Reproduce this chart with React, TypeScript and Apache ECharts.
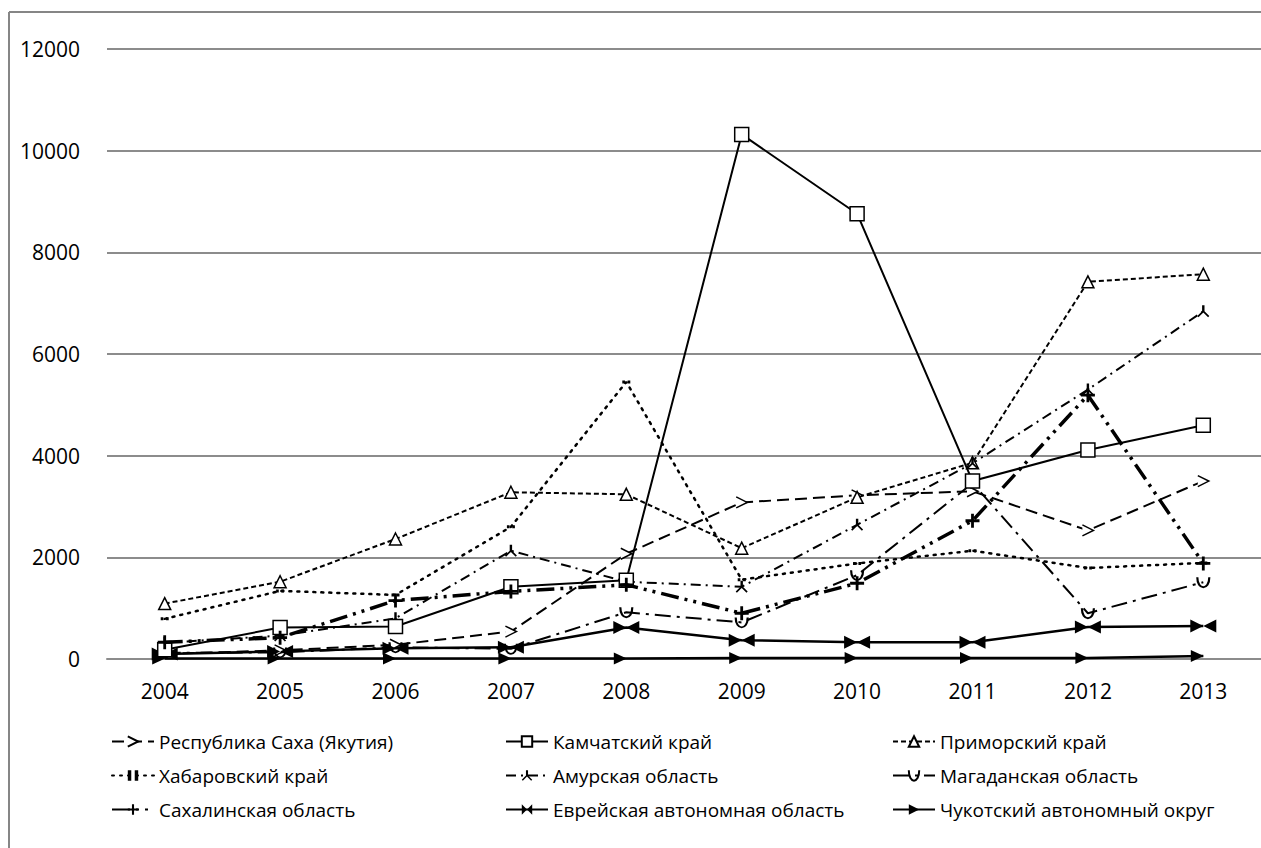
import React, { useEffect, useRef } from "react";
import * as echarts from "echarts";

const categories = ["2004", "2005", "2006", "2007", "2008", "2009", "2010", "2011", "2012", "2013"];
const yTicks = [0, 2000, 4000, 6000, 8000, 10000, 12000];

const names = [
  "Республика Саха (Якутия)",
  "Камчатский край",
  "Приморский край",
  "Хабаровский край",
  "Амурская область",
  "Магаданская область",
  "Сахалинская область",
  "Еврейская автономная область",
  "Чукотский автономный округ",
];

const saha = [100, 170, 280, 540, 2070, 3080, 3220, 3300, 2530, 3500];
const kamchatka = [180, 620, 640, 1420, 1550, 10320, 8760, 3500, 4110, 4600];
const primorsky = [1090, 1520, 2360, 3280, 3240, 2180, 3180, 3860, 7420, 7570];
const khabarovsk = [790, 1340, 1260, 2600, 5450, 1560, 1880, 2130, 1790, 1890];
const amur = [320, 460, 800, 2130, 1520, 1420, 2640, 3850, 5300, 6840];
const magadan = [120, 130, 230, 200, 920, 720, 1650, 3460, 900, 1510];
const sakhalin = [330, 420, 1150, 1330, 1460, 900, 1490, 2720, 5190, 1880];
const jewish = [100, 150, 210, 230, 620, 370, 330, 330, 630, 650];
const chukotka = [10, 10, 10, 10, 10, 20, 20, 20, 20, 60];

const FONT = "'Open Sans', 'Noto Sans', sans-serif";

export default function App() {
  const ref = useRef<HTMLDivElement>(null);
  useEffect(() => {
    if (!ref.current) return;
    const chart = echarts.init(ref.current, null, { renderer: "svg" });

    const mk = (
      name: string,
      data: number[],
      lineType: any,
      width: number,
      symbol: string,
      symbolSize: any,
      filled: boolean,
      extra: any = {}
    ) => ({
      name,
      type: "line",
      data,
      symbol,
      symbolSize,
      showAllSymbol: true,
      lineStyle: { color: "#000", width, type: lineType, cap: "butt" },
      itemStyle: filled
        ? { color: "#000", borderColor: "#000", borderWidth: 0 }
        : { color: "#fff", borderColor: "#000", borderWidth: 1.5 },
      emphasis: { disabled: true },
      z: 3,
      ...extra,
    });

    const series = [
      mk(names[0], saha, [12, 6], 2, "path://M0,0 L10,5 L0,10", [11, 11], false),
      mk(names[1], kamchatka, "solid", 2, "rect", 14, false, { z: 4 }),
      mk(names[2], primorsky, [5, 3], 2, "triangle", 12, false),
      mk(names[3], khabarovsk, [2, 6], 2.5, "path://M0,0 H3 V3 H0 Z M6,0 H9 V3 H6 Z", [8, 3], true, {
        lineStyle: { color: "#000", width: 2.5, type: [2, 6], cap: "round" },
      }),
      mk(names[4], amur, [10, 5, 2, 5], 2, "path://M4,0 H6 V5 L10,9 L9,10 L5,6 L1,10 L0,9 L4,5 Z", 12, true),
      mk(names[5], magadan, [16, 6, 3, 6], 2, "path://M0,0 C0,9 10,9 10,0", [12, 10], false, {
        itemStyle: { color: "rgba(0,0,0,0)", borderColor: "#000", borderWidth: 2 },
      }),
      mk(names[6], sakhalin, [18, 6, 3, 6, 3, 6], 3.5, "path://M4,0 H6 V4 H10 V6 H6 V10 H4 V6 H0 V4 H4 Z", 14, true, { z: 5 }),
      mk(names[7], jewish, "solid", 2.5, "path://M0,0 L10,5 L0,10 Z M20,0 L10,5 L20,10 Z", [26, 13], true),
      mk(names[8], chukotka, "solid", 2.5, "path://M0,0 L10,5 L0,10 Z", [13, 12], true, { symbolOffset: [-6, 0] }),
    ];

    const legendBase = {
      orient: "vertical",
      top: 727,
      itemGap: 15,
      itemWidth: 42,
      itemHeight: 13,
      textStyle: { fontSize: 19, color: "#000", fontFamily: FONT },
      selectedMode: false,
    };

    chart.setOption({
      animation: false,
      backgroundColor: "#fff",
      textStyle: { fontFamily: FONT },
      grid: { left: 107, top: 49, width: 1160, height: 610, containLabel: false },
      xAxis: {
        type: "category",
        data: categories,
        boundaryGap: true,
        axisLine: { show: true, lineStyle: { color: "#8c8c8c", width: 2 } },
        axisTick: { show: false },
        axisLabel: { fontSize: 21, color: "#000", margin: 21, fontFamily: FONT },
        splitLine: { show: false },
      },
      yAxis: {
        type: "value",
        min: yTicks[0],
        max: yTicks[yTicks.length - 1],
        interval: 2000,
        axisLine: { show: false },
        axisTick: { show: false },
        axisLabel: {
          fontSize: 21,
          color: "#000",
          margin: 27,
          fontFamily: FONT,
          formatter: (v: number) => String(v),
        },
        splitLine: { show: true, lineStyle: { color: "#8c8c8c", width: 2 } },
      },
      legend: [
        { ...legendBase, left: 106, data: [names[0], names[3], names[6]] },
        { ...legendBase, left: 500, data: [names[1], names[4], names[7]] },
        { ...legendBase, left: 887, data: [names[2], names[5], names[8]] },
      ],
      graphic: [
        {
          type: "line",
          shape: { x1: 9, y1: 12, x2: 1261, y2: 12 },
          style: { stroke: "#868686", lineWidth: 2 },
          silent: true,
        },
        {
          type: "line",
          shape: { x1: 9, y1: 12, x2: 9, y2: 848 },
          style: { stroke: "#868686", lineWidth: 2 },
          silent: true,
        },
      ],
      series,
    });
    return () => chart.dispose();
  }, []);
  return (
    <div
      ref={ref}
      style={{ position: "fixed", left: 0, top: 0, width: 1261, height: 848, background: "#fff" }}
    />
  );
}
